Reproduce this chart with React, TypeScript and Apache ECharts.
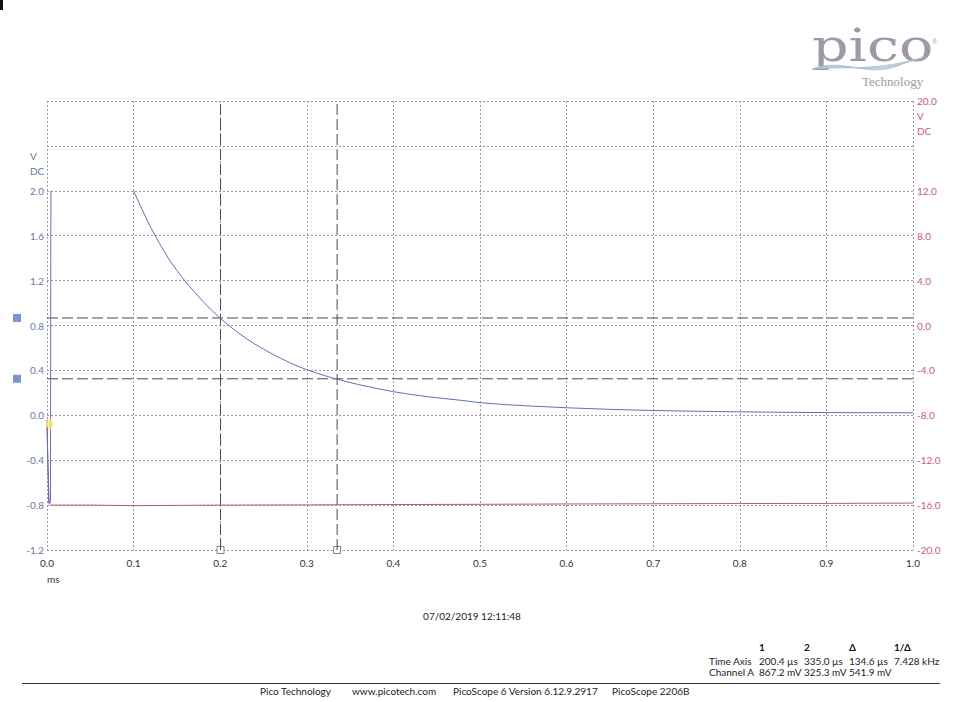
import React, { useEffect, useRef } from "react";
import * as echarts from "echarts";

// Channel A (blue, left axis, V) — time in ms
const chanATime: (number | null)[] = [0, 0.002, 0.004, 0.0045, null, 0.1, 0.11, 0.12, 0.13, 0.14, 0.15, 0.16, 0.17, 0.18, 0.19, 0.2, 0.21, 0.22, 0.23, 0.24, 0.25, 0.26, 0.27, 0.28, 0.29, 0.3, 0.31, 0.32, 0.33, 0.34, 0.35, 0.36, 0.38, 0.4, 0.42, 0.44, 0.46, 0.48, 0.5, 0.53, 0.56, 0.6, 0.65, 0.7, 0.75, 0.8, 0.85, 0.9, 0.95, 1.0];
const chanAVolts: (number | null)[] = [-0.1, -0.78, -0.78, 2.0, null, 2.0, 1.83, 1.67, 1.53, 1.4, 1.29, 1.19, 1.1, 1.015, 0.937, 0.865, 0.8, 0.74, 0.685, 0.635, 0.59, 0.547, 0.507, 0.47, 0.436, 0.406, 0.38, 0.355, 0.332, 0.312, 0.292, 0.273, 0.24, 0.21, 0.186, 0.165, 0.148, 0.132, 0.112, 0.095, 0.082, 0.067, 0.053, 0.043, 0.036, 0.031, 0.027, 0.024, 0.023, 0.022];

// Channel B (red, right axis, V)
const chanBTime: number[] = [0, 0.001, 0.0025, 0.004, 0.05, 0.1, 0.2, 0.3, 0.4, 0.5, 0.6, 0.7, 0.8, 0.9, 1.0];
const chanBVolts: number[] = [-8.4, -12.0, -15.9, -16.0, -16.0, -16.05, -16.0, -15.98, -15.95, -15.93, -15.9, -15.88, -15.86, -15.85, -15.82];

// Cursors
const timeCursors: number[] = [0.2004, 0.335];
const voltCursors: number[] = [0.8672, 0.3253];

// Table
const tableHeaders: string[] = ["1", "2", "Δ", "1/Δ"];
const timeRow: string[] = ["200.4 µs", "335.0 µs", "134.6 µs", "7.428 kHz"];
const chanRow: string[] = ["867.2 mV", "325.3 mV", "541.9 mV", ""];
const footerTexts: string[] = ["Pico Technology", "www.picotech.com", "PicoScope 6 Version 6.12.9.2917", "PicoScope 2206B"];
const footerX: number[] = [260, 352, 453, 612];
const tableColX: number[] = [759, 804, 849, 894];

const BLUE = "#5b74b4";
const RED = "#d0506e";
const LEFT_LABEL = "#6a78a0";
const RIGHT_LABEL = "#c0607e";
const FONT = "Lato, 'Noto Sans', sans-serif";

export default function App() {
  const ref = useRef<HTMLDivElement>(null);
  useEffect(() => {
    document.body.style.margin = "0";
    const chart = echarts.init(ref.current!, null, { renderer: "svg" });

    const blueData = chanATime.map((t, i) => (t === null ? [null, null] : [t, chanAVolts[i]]));
    const redData = chanBTime.map((t, i) => [t, chanBVolts[i]]);

    const dashed = { type: [11, 4] as any, color: "#4a4a4a", width: 1 };

    const els: any[] = [];
    els.push({ type: "text", x: 30, y: 151, style: { text: "V", fill: LEFT_LABEL, font: `10px ${FONT}` } });
    els.push({ type: "text", x: 30, y: 166, style: { text: "DC", fill: LEFT_LABEL, font: `10px ${FONT}` } });
    els.push({ type: "text", x: 917, y: 111, style: { text: "V", fill: RIGHT_LABEL, font: `10px ${FONT}` } });
    els.push({ type: "text", x: 917, y: 126, style: { text: "DC", fill: RIGHT_LABEL, font: `10px ${FONT}` } });
    els.push({ type: "text", x: 47, y: 574, style: { text: "ms", fill: "#333", font: `10px ${FONT}` } });
    els.push({ type: "text", x: 472, y: 611, style: { text: "07/02/2019 12:11:48", fill: "#222", font: `10px ${FONT}`, align: "center" } });
    tableHeaders.forEach((h, i) => {
      els.push({ type: "text", x: tableColX[i], y: 642, style: { text: h, fill: "#111", font: `bold 10px ${FONT}` } });
    });
    els.push({ type: "text", x: 709, y: 656, style: { text: "Time Axis", fill: "#222", font: `10px ${FONT}` } });
    els.push({ type: "text", x: 709, y: 667, style: { text: "Channel A", fill: "#222", font: `10px ${FONT}` } });
    timeRow.forEach((s, i) => els.push({ type: "text", x: tableColX[i], y: 656, style: { text: s, fill: "#222", font: `10px ${FONT}` } }));
    chanRow.forEach((s, i) => els.push({ type: "text", x: tableColX[i], y: 667, style: { text: s, fill: "#222", font: `10px ${FONT}` } }));
    els.push({ type: "line", shape: { x1: 22, y1: 683.5, x2: 940, y2: 683.5 }, style: { stroke: "#333", lineWidth: 1 } });
    footerTexts.forEach((s, i) => els.push({ type: "text", x: footerX[i], y: 686, style: { text: s, fill: "#222", font: `10px ${FONT}` } }));
    // logo
    els.push({ type: "text", x: 812, y: 24, scaleX: 1.3, style: { text: "pico", fill: "#9d9aa8", font: `44px 'DejaVu Serif', 'Liberation Serif', serif` } });
    els.push({ type: "text", x: 932, y: 38, style: { text: "®", fill: "#aaa", font: `7px sans-serif` } });
    els.push({ type: "text", x: 862, y: 75, style: { text: "Technology", fill: "#9a9a9a", font: `13px 'Liberation Serif', serif` } });
    const waveOffsets = [-4, -2, 0, 2, 4, 6];
    waveOffsets.forEach((o, k) => {
      els.push({
        type: "bezierCurve",
        shape: { x1: 812, y1: 69, cpx1: 845, cpy1: 60 + o, cpx2: 872, cpy2: 78 - o, x2: 905 + k * 4, y2: 62 - k },
        style: { stroke: k % 2 ? "#a8c4e0" : "#b8bcc8", lineWidth: 0.8, fill: null },
      });
    });
    els.push({ type: "rect", shape: { x: 0, y: 0, width: 3, height: 10 }, style: { fill: "#111" } });

    const cursorSeries: any[] = [
      ...timeCursors.map((t) => ({
        type: "line",
        yAxisIndex: 0,
        data: [[t, -1.2], [t, 2.8]],
        symbol: "none",
        lineStyle: dashed,
        silent: true,
      })),
      ...voltCursors.map((v) => ({
        type: "line",
        yAxisIndex: 0,
        data: [[0, v], [1, v]],
        symbol: "none",
        lineStyle: dashed,
        silent: true,
      })),
    ];

    chart.setOption({
      animation: false,
      backgroundColor: "#ffffff",
      grid: { left: 47, right: 47, top: 101, height: 449, containLabel: false },
      xAxis: {
        type: "value",
        min: 0,
        max: 1,
        interval: 0.1,
        axisLine: { show: false },
        axisTick: { show: false },
        axisLabel: { color: "#333", fontSize: 10, fontFamily: FONT, margin: 8, formatter: (v: number) => v.toFixed(1) },
        splitLine: { show: true, lineStyle: { type: [2, 2], color: "#9a9a9a", width: 1 } },
      },
      yAxis: [
        {
          type: "value",
          min: -1.2,
          max: 2.8,
          interval: 0.4,
          axisLine: { show: false },
          axisTick: { show: false },
          axisLabel: {
            color: LEFT_LABEL,
            fontSize: 10,
            fontFamily: FONT,
            margin: 3,
            formatter: (v: number) => (v > 2.01 ? "" : v.toFixed(1)),
          },
          splitLine: { show: true, lineStyle: { type: [2, 2], color: "#9a9a9a", width: 1 } },
        },
        {
          type: "value",
          min: -20,
          max: 20,
          interval: 4,
          position: "right",
          axisLine: { show: false },
          axisTick: { show: false },
          axisLabel: {
            color: RIGHT_LABEL,
            fontSize: 10,
            fontFamily: FONT,
            margin: 4,
            formatter: (v: number) => (v > 13 && v < 19 ? "" : v.toFixed(1)),
          },
          splitLine: { show: false },
        },
      ],
      series: [
        ...cursorSeries,
        {
          type: "line",
          yAxisIndex: 1,
          data: redData,
          symbol: "none",
          lineStyle: { color: RED, width: 1 },
          silent: true,
        },
        {
          type: "line",
          yAxisIndex: 0,
          data: blueData,
          symbol: "none",
          connectNulls: false,
          lineStyle: { color: BLUE, width: 1 },
          silent: true,
        },
        {
          type: "scatter",
          yAxisIndex: 0,
          data: timeCursors.map((t) => [t, -1.2]),
          symbol: "rect",
          symbolSize: 7,
          clip: false,
          itemStyle: { color: "#fff", borderColor: "#666", borderWidth: 1 },
          silent: true,
        },
        {
          type: "scatter",
          yAxisIndex: 0,
          data: voltCursors.map((v) => [-0.0346, v]),
          symbol: "rect",
          symbolSize: 8,
          clip: false,
          itemStyle: { color: "#5b78c0" },
          silent: true,
        },
        {
          type: "scatter",
          yAxisIndex: 0,
          data: [[0.003, -0.08]],
          symbol: "diamond",
          symbolSize: [9, 13],
          clip: false,
          z: 10,
          itemStyle: { color: "#f3ea70" },
          silent: true,
        },
      ],
      graphic: els,
    });
    return () => chart.dispose();
  }, []);
  return <div ref={ref} style={{ width: 960, height: 702, position: "absolute", left: 0, top: 0 }} />;
}
